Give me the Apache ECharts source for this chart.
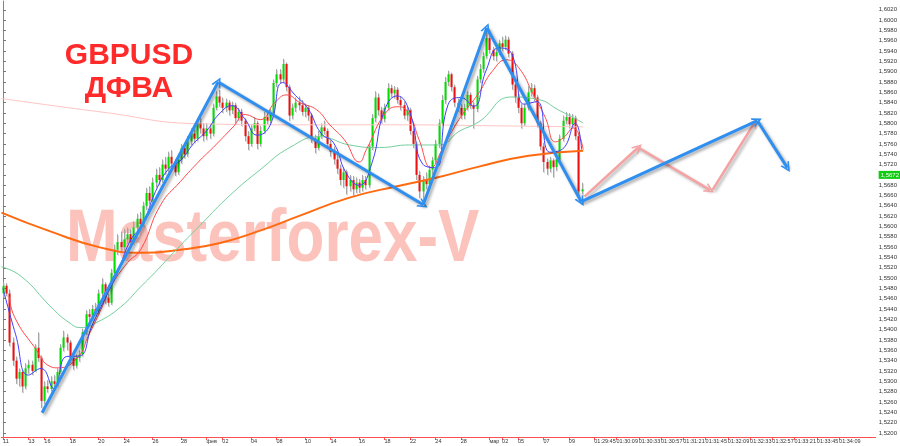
<!DOCTYPE html>
<html><head><meta charset="utf-8">
<script src="https://cdn.jsdelivr.net/npm/echarts@6/dist/echarts.min.js"></script>
<style>html,body{margin:0;padding:0;background:#fff}#c{width:900px;height:446px}</style>
</head><body><div id="c"></div>
<script>
// ---- candle values (H4-like bars) ----
const openP = [
1.5470,1.5485,1.5470,1.5375,1.5340,1.5305,1.5318,1.5290,1.5325,1.5332,
1.5320,1.5365,1.5345,1.5262,1.5290,1.5285,1.5300,1.5295,1.5318,1.5365,
1.5385,1.5375,1.5345,1.5330,1.5345,1.5352,1.5395,1.5430,1.5425,1.5440,
1.5435,1.5470,1.5488,1.5462,1.5452,1.5510,1.5555,1.5570,1.5560,1.5575,
1.5585,1.5570,1.5598,1.5615,1.5605,1.5640,1.5665,1.5650,1.5685,1.5700,
1.5690,1.5720,1.5712,1.5735,1.5722,1.5705,1.5730,1.5752,1.5740,1.5765,
1.5780,1.5770,1.5800,1.5790,1.5775,1.5790,1.5780,1.5830,1.5852,1.5840,
1.5830,1.5840,1.5825,1.5835,1.5810,1.5822,1.5805,1.5775,1.5760,1.5790,
1.5800,1.5760,1.5785,1.5812,1.5805,1.5820,1.5878,1.5895,1.5885,1.5915,
1.5870,1.5815,1.5830,1.5840,1.5835,1.5822,1.5830,1.5815,1.5770,1.5752,
1.5775,1.5792,1.5785,1.5760,1.5745,1.5730,1.5712,1.5690,1.5705,1.5678,
1.5690,1.5672,1.5685,1.5675,1.5690,1.5680,1.5755,1.5810,1.5850,1.5825,
1.5808,1.5830,1.5868,1.5858,1.5865,1.5845,1.5835,1.5815,1.5825,1.5785,
1.5760,1.5700,1.5668,1.5690,1.5682,1.5710,1.5728,1.5760,1.5800,1.5845,
1.5880,1.5895,1.5870,1.5840,1.5830,1.5815,1.5830,1.5855,1.5835,1.5828,
1.5885,1.5905,1.5930,1.5965,1.5942,1.5930,1.5938,1.5955,1.5948,1.5962,
1.5935,1.5875,1.5850,1.5830,1.5800,1.5830,1.5860,1.5868,1.5850,1.5800,
1.5755,1.5725,1.5712,1.5728,1.5715,1.5730,1.5770,1.5805,1.5812,1.5798,
1.5810,1.5775,1.5668];
const highP = [
1.5492,1.5490,1.5478,1.5385,1.5348,1.5325,1.5322,1.5335,1.5342,1.5340,
1.5372,1.5395,1.5350,1.5300,1.5302,1.5310,1.5312,1.5325,1.5372,1.5398,
1.5392,1.5380,1.5352,1.5352,1.5360,1.5402,1.5438,1.5440,1.5448,1.5452,
1.5478,1.5500,1.5492,1.5470,1.5518,1.5565,1.5585,1.5590,1.5595,1.5598,
1.5595,1.5610,1.5625,1.5628,1.5648,1.5675,1.5678,1.5695,1.5712,1.5715,
1.5730,1.5735,1.5745,1.5748,1.5730,1.5738,1.5760,1.5762,1.5775,1.5790,
1.5792,1.5810,1.5812,1.5800,1.5800,1.5798,1.5838,1.5862,1.5865,1.5850,
1.5848,1.5845,1.5842,1.5840,1.5830,1.5828,1.5810,1.5785,1.5798,1.5812,
1.5805,1.5795,1.5822,1.5820,1.5828,1.5885,1.5905,1.5905,1.5925,1.5918,
1.5875,1.5838,1.5850,1.5852,1.5845,1.5838,1.5835,1.5820,1.5778,1.5785,
1.5800,1.5805,1.5790,1.5768,1.5755,1.5738,1.5720,1.5715,1.5710,1.5700,
1.5698,1.5695,1.5692,1.5700,1.5698,1.5762,1.5818,1.5862,1.5858,1.5832,
1.5838,1.5878,1.5875,1.5872,1.5870,1.5852,1.5842,1.5832,1.5830,1.5792,
1.5765,1.5708,1.5698,1.5705,1.5718,1.5735,1.5768,1.5808,1.5855,1.5890,
1.5902,1.5898,1.5875,1.5848,1.5838,1.5838,1.5862,1.5860,1.5842,1.5892,
1.5915,1.5938,1.5978,1.5970,1.5948,1.5945,1.5962,1.5968,1.5970,1.5968,
1.5940,1.5880,1.5858,1.5838,1.5838,1.5872,1.5878,1.5875,1.5855,1.5805,
1.5762,1.5732,1.5735,1.5732,1.5738,1.5778,1.5815,1.5822,1.5820,1.5818,
1.5815,1.5782,1.5685];
const lowP = [
1.5462,1.5465,1.5368,1.5330,1.5295,1.5290,1.5278,1.5285,1.5315,1.5312,
1.5318,1.5338,1.5248,1.5255,1.5278,1.5280,1.5288,1.5290,1.5314,1.5358,
1.5360,1.5335,1.5322,1.5325,1.5338,1.5348,1.5390,1.5415,1.5418,1.5428,
1.5430,1.5462,1.5450,1.5445,1.5448,1.5505,1.5545,1.5550,1.5552,1.5565,
1.5562,1.5565,1.5590,1.5598,1.5600,1.5632,1.5642,1.5645,1.5675,1.5680,
1.5685,1.5700,1.5705,1.5715,1.5698,1.5700,1.5722,1.5732,1.5735,1.5758,
1.5762,1.5765,1.5780,1.5765,1.5768,1.5770,1.5775,1.5825,1.5832,1.5820,
1.5822,1.5815,1.5818,1.5800,1.5805,1.5795,1.5765,1.5748,1.5755,1.5785,
1.5750,1.5755,1.5780,1.5798,1.5800,1.5815,1.5870,1.5878,1.5880,1.5862,
1.5805,1.5808,1.5822,1.5825,1.5815,1.5812,1.5805,1.5762,1.5742,1.5748,
1.5770,1.5778,1.5752,1.5735,1.5720,1.5702,1.5680,1.5675,1.5662,1.5668,
1.5660,1.5665,1.5665,1.5668,1.5672,1.5675,1.5748,1.5802,1.5815,1.5800,
1.5802,1.5825,1.5850,1.5848,1.5838,1.5825,1.5808,1.5805,1.5778,1.5752,
1.5690,1.5655,1.5650,1.5672,1.5675,1.5700,1.5722,1.5752,1.5795,1.5838,
1.5872,1.5862,1.5832,1.5822,1.5808,1.5808,1.5825,1.5828,1.5790,1.5822,
1.5878,1.5898,1.5925,1.5935,1.5922,1.5920,1.5932,1.5940,1.5942,1.5928,
1.5865,1.5840,1.5820,1.5790,1.5795,1.5825,1.5852,1.5842,1.5792,1.5748,
1.5705,1.5700,1.5705,1.5695,1.5708,1.5725,1.5765,1.5798,1.5790,1.5792,
1.5768,1.5660,1.5662];
const closeP = [
1.5485,1.5470,1.5375,1.5340,1.5305,1.5318,1.5290,1.5325,1.5332,1.5320,
1.5365,1.5345,1.5262,1.5290,1.5285,1.5300,1.5295,1.5318,1.5365,1.5385,
1.5375,1.5345,1.5330,1.5345,1.5352,1.5395,1.5430,1.5425,1.5440,1.5435,
1.5470,1.5488,1.5462,1.5452,1.5510,1.5555,1.5570,1.5560,1.5575,1.5585,
1.5570,1.5598,1.5615,1.5605,1.5640,1.5665,1.5650,1.5685,1.5700,1.5690,
1.5720,1.5712,1.5735,1.5722,1.5705,1.5730,1.5752,1.5740,1.5765,1.5780,
1.5770,1.5800,1.5790,1.5775,1.5790,1.5780,1.5830,1.5852,1.5840,1.5830,
1.5840,1.5825,1.5835,1.5810,1.5822,1.5805,1.5775,1.5760,1.5790,1.5800,
1.5760,1.5785,1.5812,1.5805,1.5820,1.5878,1.5895,1.5885,1.5915,1.5870,
1.5815,1.5830,1.5840,1.5835,1.5822,1.5830,1.5815,1.5770,1.5752,1.5775,
1.5792,1.5785,1.5760,1.5745,1.5730,1.5712,1.5690,1.5705,1.5678,1.5690,
1.5672,1.5685,1.5675,1.5690,1.5680,1.5755,1.5810,1.5850,1.5825,1.5808,
1.5830,1.5868,1.5858,1.5865,1.5845,1.5835,1.5815,1.5825,1.5785,1.5760,
1.5700,1.5668,1.5690,1.5682,1.5710,1.5728,1.5760,1.5800,1.5845,1.5880,
1.5895,1.5870,1.5840,1.5830,1.5815,1.5830,1.5855,1.5835,1.5828,1.5885,
1.5905,1.5930,1.5965,1.5942,1.5930,1.5938,1.5955,1.5948,1.5962,1.5935,
1.5875,1.5850,1.5830,1.5800,1.5830,1.5860,1.5868,1.5850,1.5800,1.5755,
1.5725,1.5712,1.5728,1.5715,1.5730,1.5770,1.5805,1.5812,1.5798,1.5810,
1.5775,1.5668,1.5672];

// ---- indicator lines, [bar index, price] ----
const blueMA = [[0,1.5480],[4,1.5390],[8,1.5312],[12,1.5325],[16,1.5286],[20,1.5348],[24,1.5349],
 [28,1.5408],[32,1.5459],[36,1.5510],[40,1.5572],[44,1.5606],[48,1.5668],[52,1.5711],[56,1.5729],
 [60,1.5761],[64,1.5785],[68,1.5818],[72,1.5834],[76,1.5809],[80,1.5777],[84,1.5796],[88,1.5879],
 [92,1.5854],[96,1.5828],[100,1.5781],[104,1.5762],[108,1.5703],[112,1.5680],[116,1.5722],
 [120,1.5825],[124,1.5853],[128,1.5821],[132,1.5721],[136,1.5714],[140,1.5836],[144,1.5850],
 [148,1.5833],[152,1.5903],[156,1.5946],[160,1.5935],[164,1.5837],[168,1.5842],[172,1.5744],
 [176,1.5750],[180,1.5800],[182,1.5749]];
const redMA = [[2,1.5464],[3.6,1.5425],[9.8,1.5367],[15.1,1.5328],[17.3,1.5326],[23.6,1.5347],
 [26.7,1.5386],[30.8,1.5439],[33.9,1.5483],[39.2,1.5530],[43.3,1.5555],[49.6,1.5642],[55.8,1.5687],
 [62.1,1.5729],[66.1,1.5753],[72.4,1.5793],[76.2,1.5817],[80.9,1.5807],[85.5,1.5840],[89.3,1.5855],
 [93.4,1.5840],[98.7,1.5826],[102.8,1.5797],[107.4,1.5768],[112.1,1.5725],[114.3,1.5749],
 [120.6,1.5822],[124.7,1.5832],[127.8,1.5817],[130.9,1.5768],[134.7,1.5714],[138.1,1.5749],
 [143.4,1.5807],[149.7,1.5859],[153.8,1.5900],[158.4,1.5923],[162.2,1.5908],[166.9,1.5855],
 [170.6,1.5811],[173.8,1.5764],[176.3,1.5772],[179.4,1.5791],[182.5,1.5749]];
const greenMA = [[-0.5,1.5522],[5.8,1.5503],[15.1,1.5444],[20.5,1.5415],[24.5,1.5404],[29.8,1.5415],
 [37.0,1.5444],[43.3,1.5483],[48.6,1.5516],[53.6,1.5549],[62.1,1.5603],[71.5,1.5661],[80.9,1.5710],
 [90.2,1.5753],[99.6,1.5774],[109,1.5758],[118.4,1.5753],[127.8,1.5758],[137.2,1.5758],
 [143.4,1.5784],[149.7,1.5803],[160,1.5851],[168.5,1.5846],[174.7,1.5826],[182.5,1.5801]];
const orangeMA = [[-0.5,1.5627],[15.1,1.5590],[30.8,1.5559],[43.3,1.5549],[55.8,1.5555],[68.3,1.5568],
 [80.9,1.5592],[93.4,1.5621],[109,1.5656],[124.7,1.5679],[137.2,1.5696],[149.7,1.5716],
 [165.3,1.5737],[182.5,1.5747]];
const pinkMA = [[-0.5,1.5848],[30.8,1.5822],[62.1,1.5799],[93.4,1.5797],[124.7,1.5797],[156,1.5795],[182.5,1.5793]];

// ---- drawn arrows (segments) ----
const blueArrows = [
 [[12.3,1.5239],[67.7,1.5880]], [[67.7,1.5880],[132.2,1.5642]], [[132.2,1.5642],[152.2,1.5985]],
 [[152.2,1.5985],[181.9,1.5648]], [[181.9,1.5648],[237.3,1.5805]], [[237.3,1.5805],[246.7,1.5714]]];
const pinkArrows = [
 [[182.9,1.5658],[199.8,1.5753]], [[199.8,1.5753],[222.3,1.5671]], [[223.2,1.5671],[236.4,1.5801]]];

// ---- time axis labels ----
const slotCount = 275;
const tickIndex = [0,8,13,21,30,38,47,56,64,69,78,86,95,103,112,120,128,136,144,153,157,162,170,178,
  186,193,200,207,214,221,228,235,242,249,256,263];
const tickLabel = ['11','13','16','18','20','24','26','28','фев','02','04','08','10','14','16','18','22','24','28','мар','02','05','07','09',
  '01:29:45','01:30:09','01:30:33','01:30:57','01:31:21','01:31:45','01:32:09','01:32:33','01:32:57','01:33:21','01:33:45','01:34:09'];

const cats = Array.from({length: slotCount}, () => '');
tickIndex.forEach((k, j) => { cats[k] = tickLabel[j]; });
const candleData = openP.map((o, i) => [i, o, closeP[i], lowP[i], highP[i]]);
const lastClose = closeP[closeP.length - 1];
const fmt = v => v.toFixed(4).replace('.', ',');
const chevron = 'path://M5,0 L10,10 L8.2,10 L5,3.4 L1.8,10 L0,10 Z';
const FONT = '"Liberation Sans", Arial, sans-serif';

const chart = echarts.init(document.getElementById('c'));
chart.setOption({
  animation: false,
  backgroundColor: '#ffffff',
  title: {
    text: 'GBPUSD\nДФВА', left: 124, top: 34, textAlign: 'center',
    textStyle: { fontFamily: FONT, fontSize: 30, fontWeight: 'bold', color: '#ff2b2b', lineHeight: 33 }
  },
  graphic: [{
    type: 'text', x: 66, y: 203, scaleY: 1.2, z: 0, silent: true,
    style: { text: 'Masterforex-V', font: 'bold 62px ' + FONT, fill: 'rgba(248,110,95,0.42)', verticalAlign: 'top', align: 'left' }
  }],
  grid: { left: 0, right: 21, top: 1, bottom: 9 },
  xAxis: [{
    type: 'category', data: cats, boundaryGap: true,
    axisLine: { show: true, lineStyle: { color: '#ff5050', width: 1 } },
    axisTick: { show: true, alignWithLabel: true, length: 3, interval: (i, v) => v !== '', lineStyle: { color: '#ff5050' } },
    axisLabel: { interval: (i, v) => v !== '', align: 'left', margin: 1, fontSize: 5.5, color: '#333', fontFamily: FONT, hideOverlap: false },
    splitLine: { show: false }
  }, {
    type: 'value', min: -0.5, max: slotCount - 0.5, show: false
  }],
  yAxis: {
    type: 'value', position: 'right', min: 1.5192, max: 1.6037, splitNumber: 42,
    axisLine: { show: true, lineStyle: { color: '#ff5050' } },
    axisTick: { show: true, length: 3, lineStyle: { color: '#777' } },
    axisLabel: { fontSize: 6, color: '#333', margin: 3, showMinLabel: false, showMaxLabel: false, formatter: fmt, fontFamily: FONT },
    splitLine: { show: false }
  },
  series: [
    {
      type: 'custom', name: 'candles', xAxisIndex: 1, yAxisIndex: 0, z: 3,
      data: candleData, encode: { x: 0, y: [1, 2, 3, 4] },
      renderItem: function (params, api) {
        const x = api.value(0), o = api.value(1), c = api.value(2), l = api.value(3), h = api.value(4);
        const pO = api.coord([x, o]), pC = api.coord([x, c]), pL = api.coord([x, l]), pH = api.coord([x, h]);
        const cx = Math.round(pO[0]) + 0.5;
        const top = Math.min(pO[1], pC[1]);
        const ht = Math.max(1, Math.abs(pO[1] - pC[1]));
        return { type: 'group', children: [
          { type: 'line', shape: { x1: cx + 1, y1: pH[1] + 1, x2: cx + 1, y2: pL[1] + 1 }, style: { stroke: 'rgba(150,150,150,0.35)', lineWidth: 1 } },
          { type: 'line', shape: { x1: cx, y1: pH[1], x2: cx, y2: pL[1] }, style: { stroke: '#a6a6a6', lineWidth: 1 } },
          { type: 'rect', shape: { x: cx - 1, y: top, width: 2, height: ht }, style: { fill: c >= o ? '#00dd00' : '#ee1010' } }
        ] };
      }
    },
    { type: 'line', xAxisIndex: 1, data: pinkMA, smooth: true, symbol: 'none', z: 4, lineStyle: { color: '#ffc4c4', width: 1 },
      markLine: { silent: true, symbol: 'none', data: [{ yAxis: lastClose }],
        lineStyle: { color: 'rgba(0,0,0,0)', width: 0, type: 'solid' },
        label: { show: true, position: 'end', distance: 3, formatter: () => fmt(lastClose), backgroundColor: '#10cc10', color: '#ffffff', fontSize: 6, padding: [1, 2], fontFamily: FONT } } },
    { type: 'line', xAxisIndex: 1, data: orangeMA, smooth: true, symbol: 'none', z: 4, lineStyle: { color: '#ff6a10', width: 2 } },
    { type: 'line', xAxisIndex: 1, data: greenMA, smooth: true, symbol: 'none', z: 4, lineStyle: { color: '#72cf9c', width: 1 } },
    { type: 'line', xAxisIndex: 1, data: redMA, smooth: true, symbol: 'none', z: 4, lineStyle: { color: '#ff4a4a', width: 1 } },
    { type: 'line', xAxisIndex: 1, data: blueMA, smooth: true, symbol: 'none', z: 4, lineStyle: { color: '#4040ff', width: 1 } },
    { type: 'lines', coordinateSystem: 'cartesian2d', xAxisIndex: 1, yAxisIndex: 0, z: 6,
      symbol: ['none', chevron], symbolSize: 10,
      lineStyle: { color: '#2f8ff0', width: 3, opacity: 1, curveness: 0, shadowColor: 'rgba(0,0,0,0.35)', shadowBlur: 3, shadowOffsetX: 2, shadowOffsetY: 2 },
      data: blueArrows.map(s => ({ coords: s })) },
    { type: 'lines', coordinateSystem: 'cartesian2d', xAxisIndex: 1, yAxisIndex: 0, z: 5,
      symbol: ['none', chevron], symbolSize: 10,
      lineStyle: { color: '#f4a2a2', width: 2.5, opacity: 1, curveness: 0, shadowColor: 'rgba(0,0,0,0.3)', shadowBlur: 3, shadowOffsetX: 2, shadowOffsetY: 2 },
      data: pinkArrows.map(s => ({ coords: s })) }
  ]
});
</script>
</body></html>
